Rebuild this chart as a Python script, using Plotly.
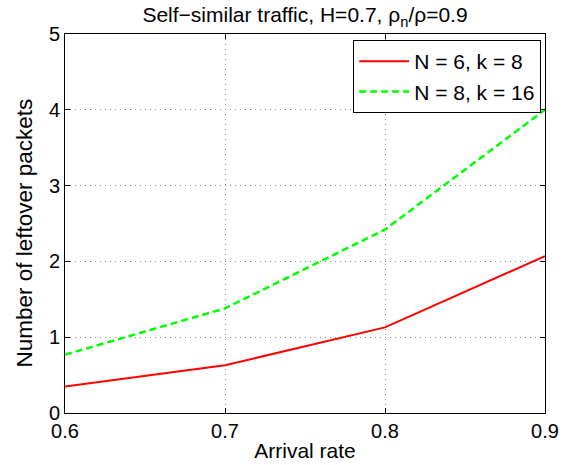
import plotly.graph_objects as go

arrival_rate = [0.6, 0.7, 0.8, 0.9]
leftover_n6_k8 = [0.35, 0.63, 1.13, 2.07]
leftover_n8_k16 = [0.77, 1.38, 2.42, 4.0]
series_names = ["N = 6, k = 8", "N = 8, k = 16"]
x_ticks = [0.6, 0.7, 0.8, 0.9]
y_ticks = [0, 1, 2, 3, 4, 5]

FONT = "Liberation Sans, Arial, Helvetica, sans-serif"

fig = go.Figure()
fig.add_trace(go.Scatter(x=arrival_rate, y=leftover_n6_k8, mode="lines",
                         name=series_names[0],
                         line=dict(color="#ff0000", width=2, dash="solid")))
fig.add_trace(go.Scatter(x=arrival_rate, y=leftover_n8_k16, mode="lines",
                         name=series_names[1],
                         line=dict(color="#00ff00", width=2.5, dash="7px,4px")))

axis_common = dict(
    showline=True, linecolor="black", linewidth=1, mirror="ticks",
    ticks="inside", ticklen=5, tickcolor="black",
    showgrid=True, gridcolor="#8c8c8c", griddash="1px,4px", gridwidth=1,
    zeroline=False, automargin=False,
    tickfont=dict(family=FONT, size=20, color="black"),
)

fig.update_xaxes(range=[0.6, 0.9], tickvals=x_ticks, ticktext=[f"{v:.1f}" for v in x_ticks],
                 title=dict(text="Arrival rate", font=dict(family=FONT, size=21, color="black"),
                            standoff=2),
                 **axis_common)
fig.update_yaxes(range=[0, 5], tickvals=y_ticks, ticktext=[str(v) for v in y_ticks],
                 **axis_common)

fig.add_annotation(text="Number of leftover packets", textangle=-90,
                   xref="paper", yref="paper", x=(24 - 65) / 480, y=(413 - 233.5) / 379,
                   xanchor="center", yanchor="middle", showarrow=False,
                   font=dict(family=FONT, size=22.5, color="black"))

fig.update_layout(
    width=571, height=465,
    margin=dict(l=65, r=26, t=34, b=52, autoexpand=False),
    paper_bgcolor="white", plot_bgcolor="white",
    title=dict(text="Self\u2212similar traffic, H=0.7, \u03c1<sub>n</sub>/\u03c1=0.9",
               x=305 / 571, xanchor="center", xref="container",
               y=1 - 15 / 465, yanchor="middle", yref="container",
               font=dict(family=FONT, size=21, color="black")),
    legend=dict(x=0.992, xanchor="right", y=0.984, yanchor="top",
                bordercolor="black", borderwidth=1, bgcolor="white",
                font=dict(family=FONT, size=21, color="black"),
                itemwidth=50, tracegroupgap=0),
    showlegend=True,
)

fig.write_html("out.html", config={"displayModeBar": False},
               post_script="document.body.style.margin='0';document.body.style.overflow='hidden';")
